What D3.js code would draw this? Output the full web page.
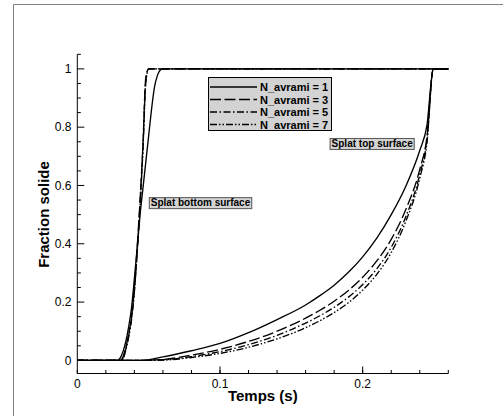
<!DOCTYPE html>
<html>
<head>
<meta charset="utf-8">
<script src="https://cdn.jsdelivr.net/npm/d3@7"></script>
<style>
  html, body { margin: 0; padding: 0; background: #fff; }
  svg { display: block; font-family: "Liberation Sans", Arial, Helvetica, sans-serif; }
</style>
</head>
<body>
<svg id="chart" width="503" height="416"></svg>
<script>
// Avrami exponents, one series per value
const avramiN = [1, 3, 5, 7];
const legendLabels = ["N_avrami = 1", "N_avrami = 3", "N_avrami = 5", "N_avrami = 7"];

// Splat bottom surface: time grid (s) and solid fraction per exponent
const timeBottom = [0, 0.028, 0.030, 0.032, 0.034, 0.036, 0.038, 0.040, 0.042, 0.044,
                    0.046, 0.048, 0.050, 0.052, 0.054, 0.056, 0.058, 0.060, 0.26];
const bottomN1 = [0, 0, 0.008, 0.03, 0.065, 0.115, 0.18, 0.28, 0.39, 0.50, 0.59, 0.68, 0.77, 0.86, 0.935, 0.975, 0.995, 1, 1];
const bottomN3 = [0, 0, 0, 0.012, 0.045, 0.09, 0.15, 0.25, 0.39, 0.55, 0.74, 0.97, 1, 1, 1, 1, 1, 1, 1];
const bottomN5 = [0, 0, 0, 0.008, 0.04, 0.085, 0.145, 0.24, 0.38, 0.54, 0.73, 0.96, 1, 1, 1, 1, 1, 1, 1];
const bottomN7 = [0, 0, 0, 0.005, 0.035, 0.08, 0.14, 0.235, 0.37, 0.53, 0.72, 0.95, 1, 1, 1, 1, 1, 1, 1];

// Splat top surface: time grid (s) and solid fraction per exponent
const timeTop = [0, 0.045, 0.06, 0.08, 0.10, 0.12, 0.14, 0.16, 0.17, 0.18, 0.19, 0.20,
                 0.21, 0.22, 0.23, 0.24, 0.245, 0.2495, 0.26];
const topN1 = [0, 0, 0.012, 0.033, 0.058, 0.095, 0.14, 0.19, 0.222, 0.258, 0.302, 0.355, 0.42, 0.50, 0.595, 0.72, 0.805, 1, 1];
const topN3 = [0, 0, 0.003, 0.018, 0.038, 0.065, 0.10, 0.145, 0.172, 0.203, 0.24, 0.285, 0.342, 0.415, 0.515, 0.655, 0.765, 1, 1];
const topN5 = [0, 0, 0.002, 0.013, 0.030, 0.054, 0.086, 0.128, 0.153, 0.182, 0.217, 0.26, 0.315, 0.388, 0.49, 0.638, 0.755, 1, 1];
const topN7 = [0, 0, 0.001, 0.010, 0.024, 0.045, 0.074, 0.112, 0.136, 0.164, 0.198, 0.241, 0.296, 0.37, 0.474, 0.625, 0.745, 1, 1];

// Axis ticks
const xMajorTicks = [0, 0.1, 0.2];
const yMajorTicks = [0, 0.2, 0.4, 0.6, 0.8, 1];

const bottomSeries = [bottomN1, bottomN3, bottomN5, bottomN7];
const topSeries = [topN1, topN3, topN5, topN7];
const dashStyles = [null, "11,3.5", "7,2.5,1.5,2.5", "7,2,1.5,2,1.5,2"];

const svg = d3.select("#chart");

// page frame
svg.append("path")
  .attr("d", "M13.5,416 V4.5 H503")
  .attr("fill", "none").attr("stroke", "#808080").attr("stroke-width", 1);

const x = d3.scaleLinear().domain([0, 0.26]).range([77.3, 448.3]);
const y = d3.scaleLinear().domain([-0.045, 1.05]).range([373.5, 54.3]);

// axis lines
const axes = svg.append("g").attr("stroke", "#000").attr("stroke-width", 1);
axes.append("line").attr("x1", x(0)).attr("x2", x(0.26))
  .attr("y1", y(-0.045)).attr("y2", y(-0.045));
axes.append("line").attr("x1", x(0)).attr("x2", x(0))
  .attr("y1", y(-0.045)).attr("y2", y(1.05));

// x ticks (inward), minor every 0.02, major at labelled values
const xMinor = d3.range(0, 0.2601, 0.02).map(v => +v.toFixed(3));
axes.selectAll(".xt").data(xMinor).join("line")
  .attr("x1", d => x(d)).attr("x2", d => x(d))
  .attr("y1", y(-0.045)).attr("y2", y(-0.045) - 3.5);
axes.selectAll(".xm").data(xMajorTicks.filter(d => d > 0)).join("line")
  .attr("x1", d => x(d)).attr("x2", d => x(d))
  .attr("y1", y(-0.045)).attr("y2", y(-0.045) - 7);

// y ticks (inward), minor every 0.05
const yMinor = d3.range(0, 1.0501, 0.05).map(v => +v.toFixed(3));
axes.selectAll(".yt").data(yMinor).join("line")
  .attr("y1", d => y(d)).attr("y2", d => y(d))
  .attr("x1", x(0))
  .attr("x2", d => x(0) + (yMajorTicks.some(m => Math.abs(m - d) < 1e-6) ? 7 : 3.5));

// tick labels
const fmt = d => d === 0 ? "0" : d3.format("~g")(d);
svg.append("g").selectAll("text").data(xMajorTicks).join("text")
  .attr("x", d => x(d)).attr("y", 388)
  .attr("text-anchor", "middle").attr("font-size", 12).text(fmt);
svg.append("g").selectAll("text").data(yMajorTicks).join("text")
  .attr("x", 71.5).attr("y", d => y(d) + 4.3)
  .attr("text-anchor", "end").attr("font-size", 12).text(fmt);

// axis titles
svg.append("text").attr("x", 262.8).attr("y", 401)
  .attr("text-anchor", "middle").attr("font-size", 15).attr("font-weight", "bold")
  .text("Temps (s)");
svg.append("text").attr("transform", "translate(49,214.5) rotate(-90)")
  .attr("text-anchor", "middle").attr("font-size", 15).attr("font-weight", "bold")
  .text("Fraction solide");

// curves
const line = d3.line().curve(d3.curveMonotoneX).x(d => x(d[0])).y(d => y(d[1]));
const plot = svg.append("g").attr("fill", "none").attr("stroke", "#000")
  .attr("stroke-width", 1.35).attr("stroke-linejoin", "round");
avramiN.forEach((n, i) => {
  const bottom = timeBottom.map((t, k) => [t, bottomSeries[i][k]]);
  const top = timeTop.map((t, k) => [t, topSeries[i][k]]);
  [bottom, top].forEach(pts => {
    plot.append("path").attr("d", line(pts))
      .attr("stroke-dasharray", dashStyles[i]);
  });
});

// legend
const legend = svg.append("g");
legend.append("rect").attr("x", 208.5).attr("y", 77.5).attr("width", 123).attr("height", 53)
  .attr("fill", "#d3d3d3").attr("stroke", "#000").attr("stroke-width", 1);
const rowY = [87, 99.5, 112, 124.5];
legendLabels.forEach((lab, i) => {
  legend.append("line").attr("x1", 210).attr("x2", 257)
    .attr("y1", rowY[i]).attr("y2", rowY[i])
    .attr("stroke", "#000").attr("stroke-width", 1.35)
    .attr("stroke-dasharray", dashStyles[i]);
  legend.append("text").attr("x", 260).attr("y", rowY[i] + 4)
    .attr("font-size", 11).attr("font-weight", "bold").text(lab);
});

// surface annotations
const notes = [
  { text: "Splat top surface", t: 0.1768, v: 0.763 },
  { text: "Splat bottom surface", t: 0.0501, v: 0.560 }
];
notes.forEach(nt => {
  const g = svg.append("g");
  const txt = g.append("text").attr("x", x(nt.t) + 2).attr("y", y(nt.v) + 9)
    .attr("font-size", 10).attr("font-weight", "bold").text(nt.text);
  const w = txt.node().getComputedTextLength();
  g.insert("rect", "text").attr("x", x(nt.t) + 0.5).attr("y", y(nt.v) + 0.5)
    .attr("width", w + 3).attr("height", 11)
    .attr("fill", "#d3d3d3").attr("stroke", "#555").attr("stroke-width", 1);
});
</script>
</body>
</html>
